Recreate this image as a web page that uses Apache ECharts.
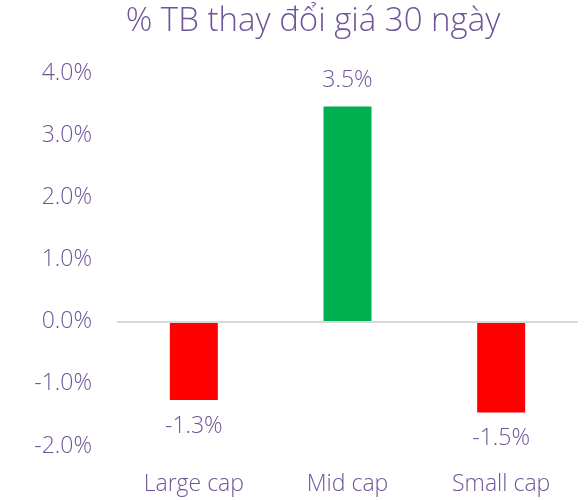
<!DOCTYPE html>
<html>
<head>
<meta charset="utf-8">
<script src="https://cdn.jsdelivr.net/npm/echarts@6/dist/echarts.min.js"></script>
<style>
  html, body { margin: 0; padding: 0; background: #fff; }
  #chart { width: 585px; height: 500px; }
</style>
</head>
<body>
<div id="chart"></div>
<script>
var categories = ['Large cap', 'Mid cap', 'Small cap'];
var values = [-1.26, 3.46, -1.46];
var barColors = ['#ff0000', '#00b050', '#ff0000'];

var purple = '#6f5499';
var fontName = 'Open Sans';

var chart = echarts.init(document.getElementById('chart'));

var seriesData = values.map(function (v, i) {
  return {
    value: v,
    itemStyle: { color: barColors[i] },
    label: { position: v < 0 ? 'bottom' : 'top' }
  };
});

chart.setOption({
  title: {
    text: '% TB thay đổi giá 30 ngày',
    left: 308,
    textAlign: 'center',
    top: 0,
    textStyle: { color: purple, fontFamily: fontName, fontWeight: 300, fontSize: 33 }
  },
  grid: { left: 117, right: 7, top: 73, bottom: 54 },
  xAxis: {
    type: 'category',
    data: categories,
    axisLine: { show: false },
    axisTick: { show: false },
    axisLabel: { color: purple, fontFamily: fontName, fontWeight: 300, fontSize: 23, margin: 27 }
  },
  yAxis: {
    type: 'value',
    min: -2,
    max: 4,
    interval: 1,
    splitLine: { show: false },
    axisLine: { show: false },
    axisTick: { show: false },
    axisLabel: {
      color: purple, fontFamily: fontName, fontWeight: 300, fontSize: 23, margin: 25,
      formatter: function (v) { return v.toFixed(1) + '%'; }
    }
  },
  series: [{
    type: 'bar',
    data: seriesData,
    barWidth: 48,
    label: {
      show: true,
      distance: 15,
      color: purple, fontFamily: fontName, fontWeight: 300, fontSize: 23,
      formatter: function (p) { return p.value.toFixed(1) + '%'; }
    },
    markLine: {
      silent: true,
      symbol: 'none',
      label: { show: false },
      lineStyle: { color: '#d9d9d9', type: 'solid', width: 2 },
      data: [{ yAxis: 0 }]
    }
  }]
});
</script>
</body>
</html>
